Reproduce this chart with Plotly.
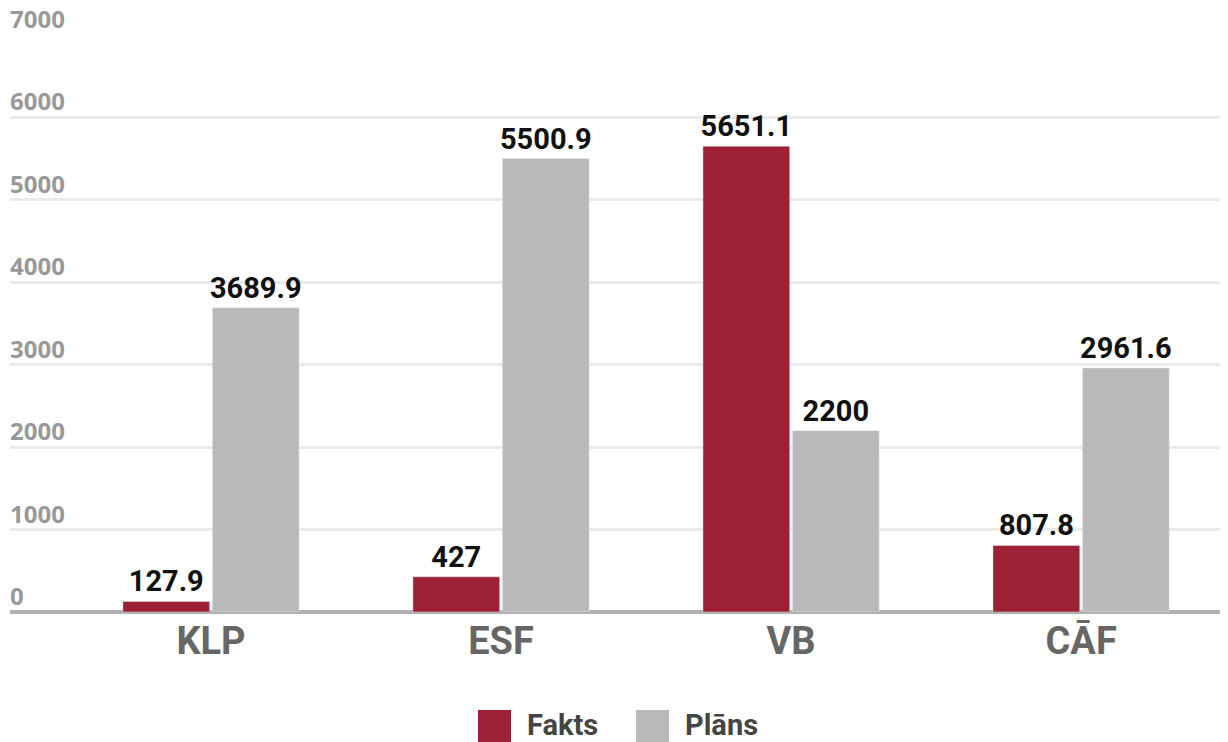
import plotly.graph_objects as go

categories = ["KLP", "ESF", "VB", "CĀF"]
fakts = [127.9, 427, 5651.1, 807.8]
plans = [3689.9, 5500.9, 2200, 2961.6]
series_names = ["Fakts", "Plāns"]
colors = ["#9d2035", "#bab9ba"]
y_ticks = [0, 1000, 2000, 3000, 4000, 5000, 6000, 7000]

def fmt(v):
    return f"{v:g}"

fig = go.Figure()
for name, vals, col in zip(series_names, [fakts, plans], colors):
    fig.add_trace(go.Bar(
        x=categories, y=vals, name=name, marker_color=col,
        text=[fmt(v) for v in vals], textposition="outside",
        textfont=dict(family="Roboto", size=29, color="#111111", weight="bold"),
        cliponaxis=False, constraintext="none", showlegend=False,
    ))

# page has an 8px body margin; figure sized/offset to land on the reference pixels
OFF = 8
W, H = 1228, 734
L, R, T, B = 2, 0, 27, 130
pw, ph = W - L - R, H - T - B

def px(x):
    return (x - OFF - L) / pw

def py(y):
    return (H - B - (y - OFF)) / ph

# y tick labels sitting above the gridlines
for t in y_ticks:
    fig.add_annotation(xref="paper", yref="y", x=0, y=t, xanchor="left", yanchor="bottom",
                       showarrow=False, text=str(t), yshift=-2, xshift=-2,
                       font=dict(family="Open Sans", size=24, color="#999999", weight="bold"))

# manual legend
legend_items = [(478, 511, 525), (636, 669, 683)]
for (x0, x1, tx), name, col in zip(legend_items, series_names, colors):
    fig.add_shape(type="rect", xref="paper", yref="paper",
                  x0=px(x0), x1=px(x1), y0=py(742), y1=py(710),
                  fillcolor=col, line_width=0)
    fig.add_annotation(xref="paper", yref="paper", x=px(tx), y=py(725),
                       xanchor="left", yanchor="middle", showarrow=False,
                       text=name,
                       font=dict(family="Roboto", size=29, color="#444444", weight="bold"))

fig.update_layout(
    width=W, height=H,
    margin=dict(l=L, r=R, t=T, b=B),
    paper_bgcolor="white", plot_bgcolor="white",
    barmode="group", bargap=0.383, bargroupgap=0.03,
    showlegend=False,
    xaxis=dict(range=[-0.693, 3.534], showgrid=False, ticks="", ticklabelstandoff=3,
               tickfont=dict(family="Roboto", size=38, color="#666666", weight="bold"),
               showline=False),
    yaxis=dict(range=[0, 7000], tickvals=y_ticks, showticklabels=False,
               gridcolor="#ebebeb", gridwidth=3,
               zeroline=True, zerolinecolor="#b0b0b0", zerolinewidth=4,
               showline=False, ticks=""),
)

fig.write_html("out.html")
